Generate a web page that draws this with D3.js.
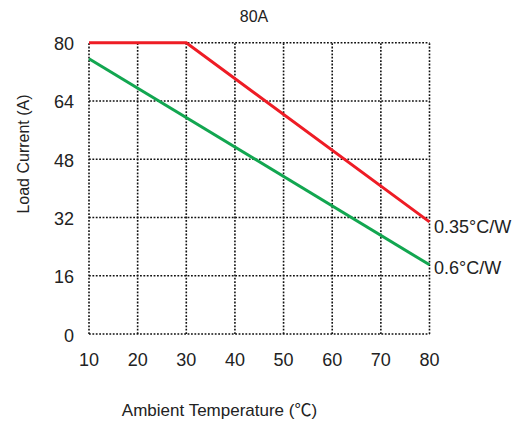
<!DOCTYPE html>
<html><head><meta charset="utf-8">
<script src="https://cdn.jsdelivr.net/npm/d3@7"></script>
<style>body{margin:0;background:#fff}svg{display:block}text{font-family:"Liberation Sans",Arial,"Noto Sans CJK SC",sans-serif;fill:#222}</style>
</head><body><svg id="c" width="521" height="425"></svg>
<script>
const title = "80A";
const xTicks = [10,20,30,40,50,60,70,80];
const yTicks = [0,16,32,48,64,80];
const redTemp = [10,30,80];
const redCurrent = [80,80,30.8];
const greenTemp = [10,80];
const greenCurrent = [75.6,19];
const seriesLabels = ["0.35°C/W","0.6°C/W"];
const xLabel = "Ambient Temperature (℃)";
const yLabel = "Load Current (A)";

const svg = d3.select("#c");
const x = d3.scaleLinear().domain([10,80]).range([89,429.5]);
const y = d3.scaleLinear().domain([0,80]).range([334,42.7]);

const grid = svg.append("g").attr("stroke","#111").attr("stroke-width",1.6).attr("stroke-dasharray","1.8,1.6");
xTicks.forEach(t=>grid.append("line").attr("x1",x(t)).attr("x2",x(t)).attr("y1",y(0)).attr("y2",y(80)));
yTicks.forEach(t=>grid.append("line").attr("x1",x(10)).attr("x2",x(80)).attr("y1",y(t)).attr("y2",y(t)));

const line = d3.line().x(d=>x(d[0])).y(d=>y(d[1]));
svg.append("path").datum(greenTemp.map((t,i)=>[t,greenCurrent[i]])).attr("d",line)
  .attr("fill","none").attr("stroke","#12a650").attr("stroke-width",3);
svg.append("path").datum(redTemp.map((t,i)=>[t,redCurrent[i]])).attr("d",line)
  .attr("fill","none").attr("stroke","#ee1c25").attr("stroke-width",3);

svg.append("g").selectAll("text").data(xTicks).join("text")
  .attr("x",d=>x(d)).attr("y",366).attr("text-anchor","middle").attr("font-size",18).text(d=>d);
svg.append("g").selectAll("text").data(yTicks).join("text")
  .attr("x",74).attr("y",d=>y(d)+7.5).attr("text-anchor","end").attr("font-size",18).text(d=>d);

svg.append("text").attr("x",254).attr("y",22).attr("text-anchor","middle").attr("font-size",16).text(title);
svg.append("text").attr("x",434).attr("y",y(redCurrent[2])+11).attr("font-size",18).text(seriesLabels[0]);
svg.append("text").attr("x",434).attr("y",y(greenCurrent[1])+9).attr("font-size",18).text(seriesLabels[1]);
svg.append("text").attr("x",219.5).attr("y",416).attr("text-anchor","middle").attr("font-size",17).text(xLabel);
svg.append("text").attr("transform","translate(29,154) rotate(-90)").attr("text-anchor","middle").attr("font-size",16).text(yLabel);
</script></body></html>
